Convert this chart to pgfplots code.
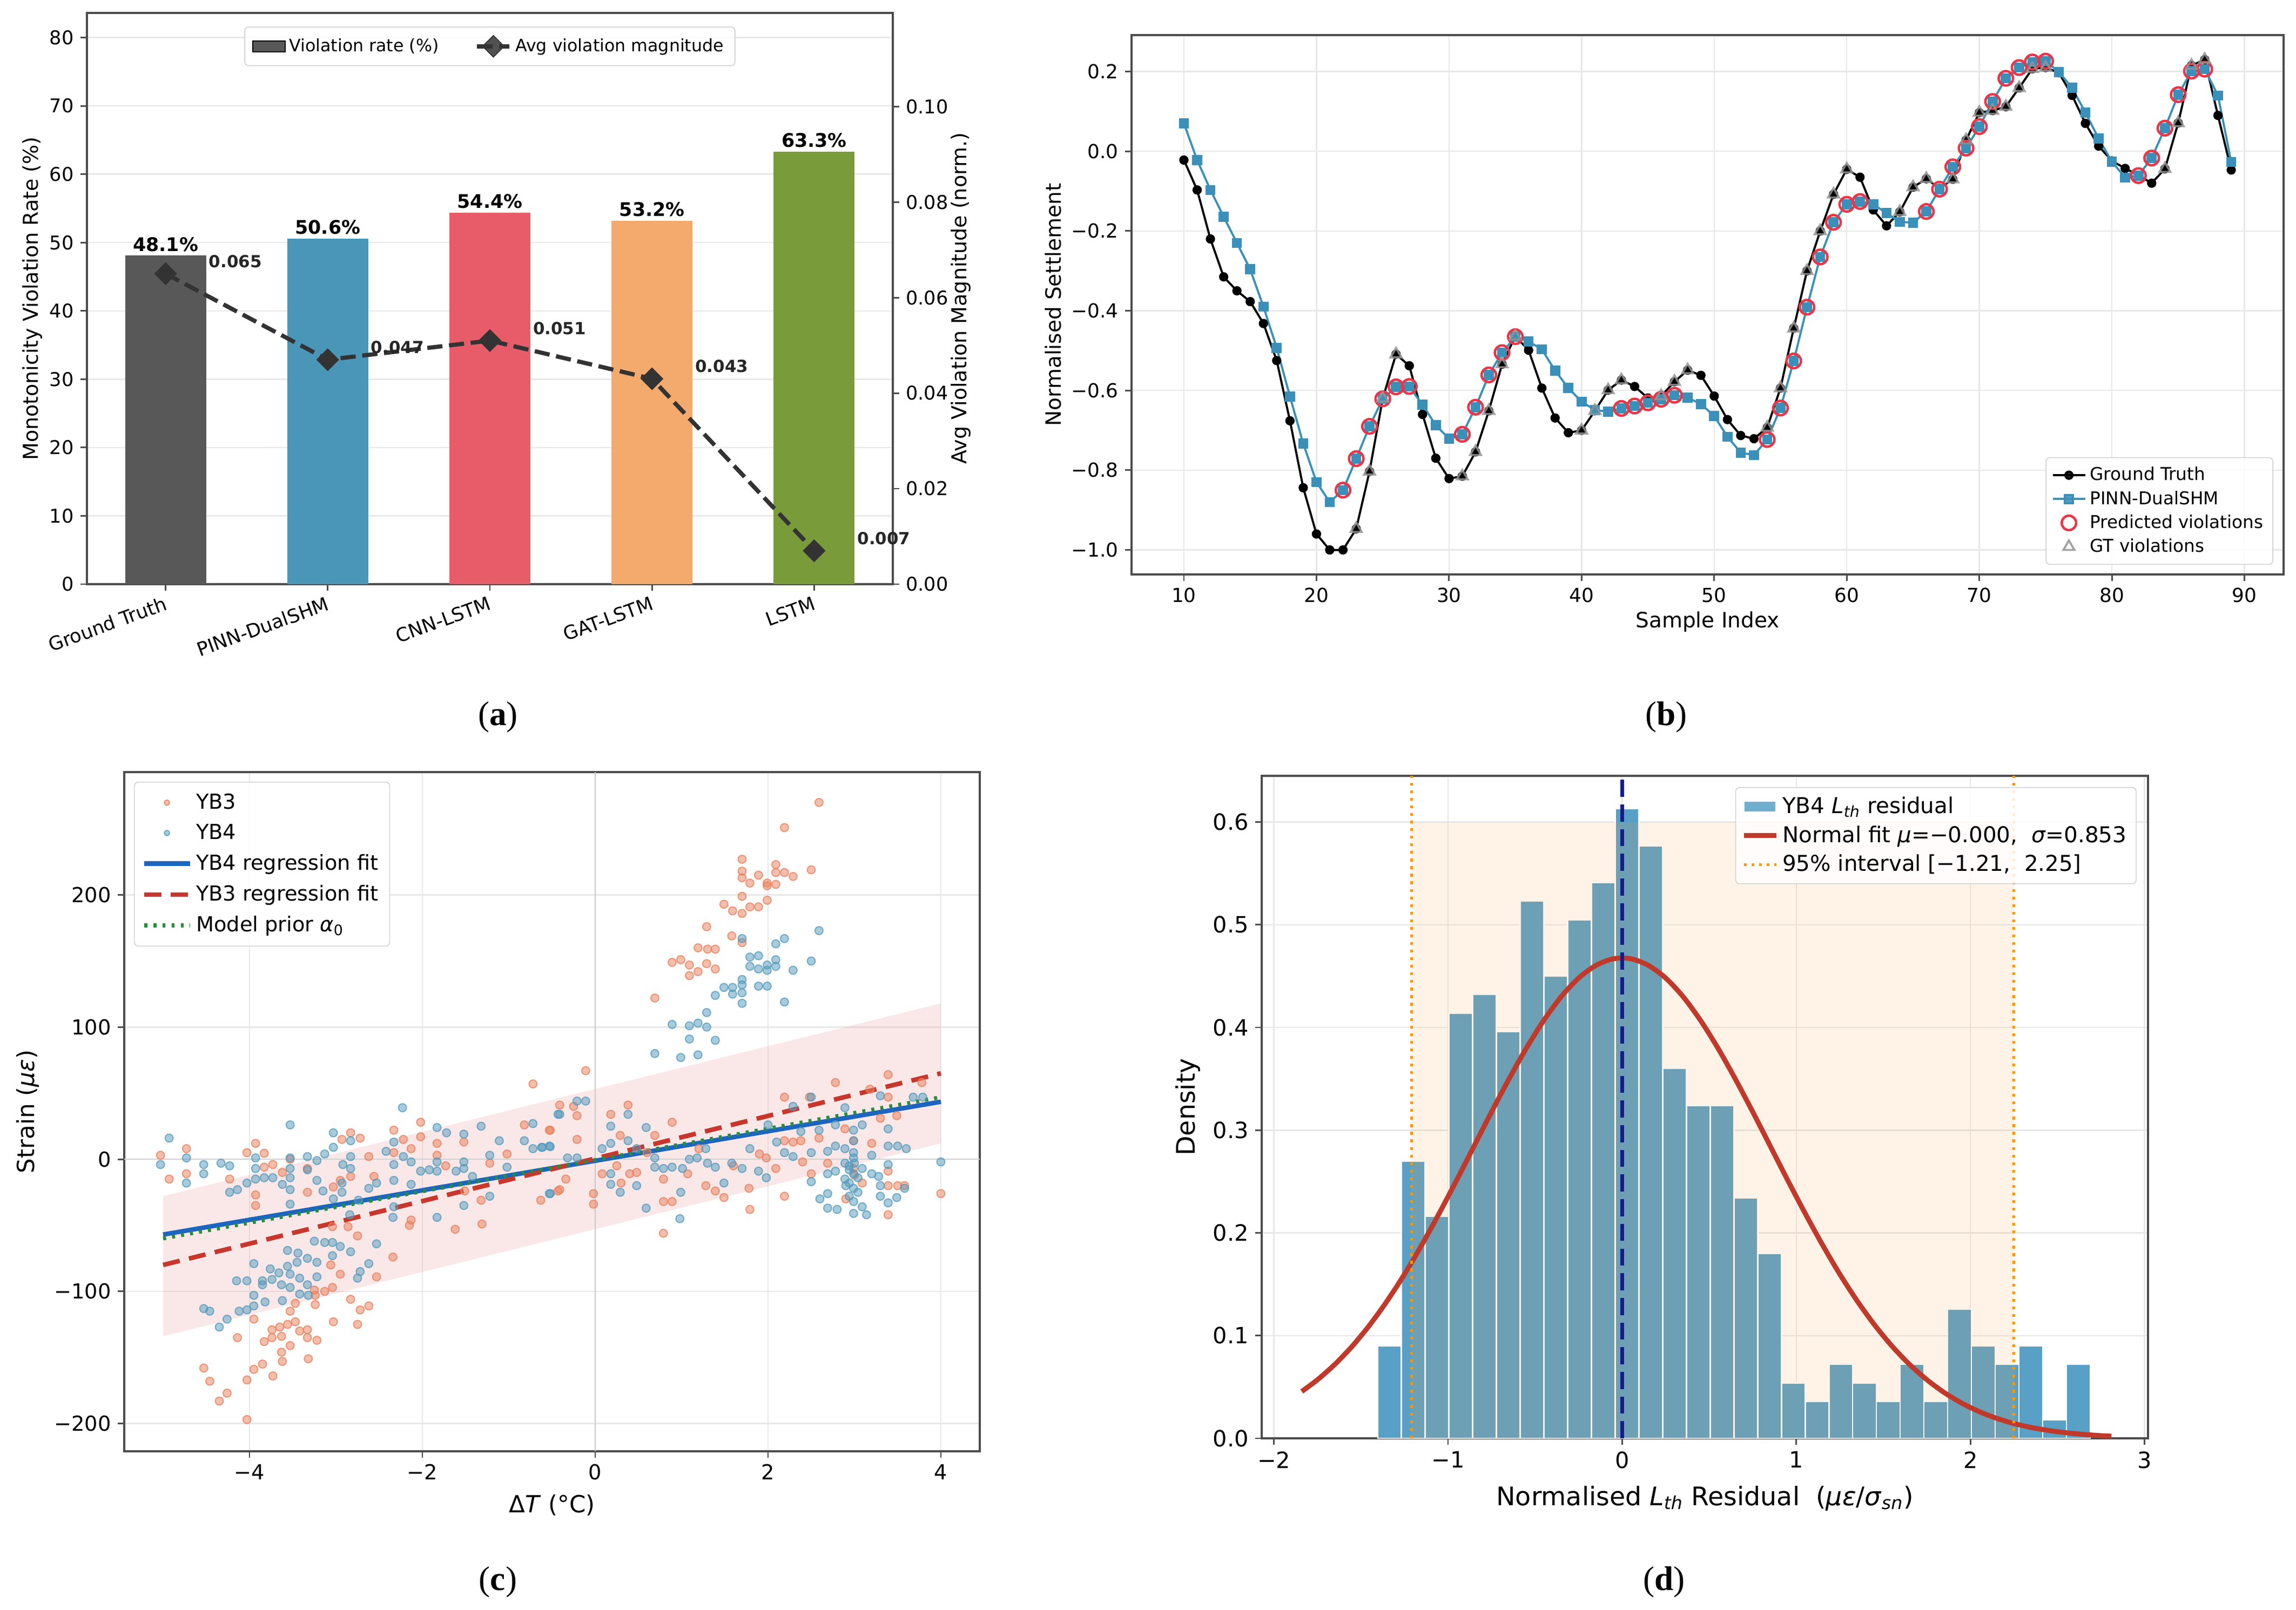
\documentclass[border=0pt]{standalone}
\usepackage{fontspec}
\setmainfont{DejaVu Sans}
\newfontfamily\capfont{Liberation Serif}
\usepackage{pgfplots}
\pgfplotsset{compat=1.18}
\usetikzlibrary{plotmarks}

\definecolor{cGT}{RGB}{88,88,88}
\definecolor{cPINN}{RGB}{74,150,184}
\definecolor{cCNN}{RGB}{232,92,106}
\definecolor{cGAT}{RGB}{243,170,108}
\definecolor{cLSTM}{RGB}{122,155,58}
\definecolor{cLine}{RGB}{51,51,51}
\definecolor{bPINN}{RGB}{58,144,184}
\definecolor{cViol}{RGB}{232,55,74}
\definecolor{cOr}{RGB}{232,128,92}
\definecolor{cBl}{RGB}{84,154,188}
\definecolor{fitBlue}{RGB}{28,101,192}
\definecolor{fitRed}{RGB}{200,55,45}
\definecolor{fitGreen}{RGB}{40,140,60}
\definecolor{band}{RGB}{232,150,150}
\definecolor{hist}{RGB}{88,160,198}
\definecolor{shade}{RGB}{255,160,70}
\definecolor{navyc}{RGB}{20,28,140}
\definecolor{dorange}{RGB}{255,150,0}
\definecolor{curvec}{RGB}{192,57,43}

\pgfplotsset{
  mpl/.style={
    scale only axis, anchor=south west,
    axis line style={black!70, line width=0.9pt},
    tick style={black!70, line width=0.8pt},
    tick align=outside, major tick length=0.12cm,
    tick pos=left,
    grid style={black!9, line width=0.7pt},
    legend cell align=left,
    legend style={draw=black!20, fill=white, fill opacity=0.85, text opacity=1, rounded corners=2pt, inner sep=3pt},
    legend image post style={sharp corners},
    /pgf/number format/assume math mode=true,
  },
  longline/.style={legend image code/.code={\draw[##1] (0cm,0cm) -- (0.85cm,0cm);}},
  smallmark/.style={legend image code/.code={\draw[mark repeat=2,mark phase=2,##1, mark size=1.4pt] plot coordinates {(0cm,0cm)(0.42cm,0cm)(0.85cm,0cm)};}},
}

\begin{document}
\begin{tikzpicture}
\useasboundingbox (0,0) rectangle (42.51,29.81);

%%%%%%%%%%%%%%%% (a) %%%%%%%%%%%%%%%%
\begin{axis}[mpl, at={(1.61cm,18.99cm)}, width=14.92cm, height=10.58cm,
  xmin=-0.485, xmax=4.485, ymin=0, ymax=83.6,
  xtick={0,1,2,3,4}, xticklabels={Ground Truth,PINN-DualSHM,CNN-LSTM,GAT-LSTM,LSTM},
  x tick label style={rotate=20, anchor=north east, font=\fontsize{10}{12}\selectfont, inner sep=2pt},
  ytick={0,10,20,30,40,50,60,70,80},
  yticklabels={0,10,20,30,40,50,60,70,80},
  y tick label style={font=\fontsize{10}{12}\selectfont},
  ymajorgrids,
  ylabel={Monotonicity Violation Rate (\%)},
  ylabel style={at={(axis description cs:-0.0677,0.5)}, anchor=center, font=\fontsize{10.8}{13}\selectfont},
  bar width=0.5,
  nodes near coords={\pgfmathprintnumber[fixed,precision=1,fixed zerofill]{\pgfplotspointmeta}\%},
  every node near coord/.append style={font=\bfseries\fontsize{9.9}{12}\selectfont, anchor=south, inner sep=2pt},
]
\addplot[ybar, bar shift=0pt, fill=cGT, draw=none] coordinates {(0,48.1)};
\addplot[ybar, bar shift=0pt, fill=cPINN, draw=none] coordinates {(1,50.6)};
\addplot[ybar, bar shift=0pt, fill=cCNN, draw=none] coordinates {(2,54.4)};
\addplot[ybar, bar shift=0pt, fill=cGAT, draw=none] coordinates {(3,53.2)};
\addplot[ybar, bar shift=0pt, fill=cLSTM, draw=none] coordinates {(4,63.3)};
\end{axis}

\begin{axis}[mpl, at={(1.61cm,18.99cm)}, width=14.92cm, height=10.58cm,
  xmin=-0.485, xmax=4.485, ymin=0, ymax=0.1196, clip=false,
  axis x line=none, axis y line*=right, ytick pos=right,
  ytick={0,0.02,0.04,0.06,0.08,0.10}, yticklabels={0.00,0.02,0.04,0.06,0.08,0.10},
  y tick label style={font=\fontsize{10}{12}\selectfont},
  ylabel={Avg Violation Magnitude (norm.)},
  ylabel style={at={(axis description cs:1.0845,0.5)}, anchor=center, font=\fontsize{10.8}{13}\selectfont},
  legend columns=2,
  legend style={at={(0.5,0.976)}, anchor=north, font=\fontsize{9}{11}\selectfont, inner sep=4pt,
     /tikz/every even column/.append style={column sep=0.6cm}},
]
\addlegendimage{area legend, fill=cGT, fill opacity=1, draw=none}
\addlegendentry{Violation rate (\%)}
\addplot[cLine, line width=2.2pt, dash pattern=on 8pt off 3.5pt, mark=square*, mark size=4pt,
  mark options={solid, rotate=45, fill=cLine, draw=cLine, line width=0.5pt}]
  coordinates {(0,0.065)(1,0.047)(2,0.051)(3,0.043)(4,0.007)};
\addlegendentry{Avg violation magnitude}
\node[font=\bfseries\fontsize{8.8}{10}\selectfont, text=black!85] at (axis cs:0.43,0.0676) {0.065};
\node[font=\bfseries\fontsize{8.8}{10}\selectfont, text=black!85] at (axis cs:1.43,0.0496) {0.047};
\node[font=\bfseries\fontsize{8.8}{10}\selectfont, text=black!85] at (axis cs:2.43,0.0536) {0.051};
\node[font=\bfseries\fontsize{8.8}{10}\selectfont, text=black!85] at (axis cs:3.43,0.0456) {0.043};
\node[font=\bfseries\fontsize{8.8}{10}\selectfont, text=black!85] at (axis cs:4.43,0.0096) {0.007};
\end{axis}

%%%%%%%%%%%%%%%% (b) %%%%%%%%%%%%%%%%
\begin{axis}[mpl, at={(20.95cm,19.17cm)}, width=21.33cm, height=9.99cm,
  xmin=6.05, xmax=92.95, ymin=-1.0615, ymax=0.2915,
  xtick={10,20,30,40,50,60,70,80,90},
  ytick={-1,-0.8,-0.6,-0.4,-0.2,0,0.2}, yticklabels={−1.0,−0.8,−0.6,−0.4,−0.2,0.0,0.2},
  grid=major,
  tick label style={font=\fontsize{10.2}{12}\selectfont},
  xlabel={Sample Index}, ylabel={Normalised Settlement},
  xlabel style={at={(axis description cs:0.5,-0.088)}, anchor=center, font=\fontsize{11.1}{13}\selectfont},
  ylabel style={at={(axis description cs:-0.068,0.5)}, anchor=center, font=\fontsize{11.1}{13}\selectfont},
  legend style={at={(0.991,0.018)}, anchor=south east, font=\fontsize{9.3}{11}\selectfont},
]
\addplot[black, line width=1.1pt, mark=*, mark size=1.9pt, mark options={solid, fill=black}] coordinates {
(10,-0.022)(11,-0.097)(12,-0.220)(13,-0.315)(14,-0.350)(15,-0.377)(16,-0.432)(17,-0.525)(18,-0.676)(19,-0.844)(20,-0.960)(21,-1.000)(22,-1.000)(23,-0.947)(24,-0.803)(25,-0.620)(26,-0.509)(27,-0.538)(28,-0.660)(29,-0.770)(30,-0.821)(31,-0.815)(32,-0.754)(33,-0.651)(34,-0.534)(35,-0.464)(36,-0.499)(37,-0.594)(38,-0.669)(39,-0.706)(40,-0.700)(41,-0.651)(42,-0.599)(43,-0.574)(44,-0.590)(45,-0.619)(46,-0.614)(47,-0.578)(48,-0.549)(49,-0.562)(50,-0.614)(51,-0.673)(52,-0.713)(53,-0.721)(54,-0.693)(55,-0.594)(56,-0.444)(57,-0.300)(58,-0.200)(59,-0.108)(60,-0.045)(61,-0.065)(62,-0.147)(63,-0.187)(64,-0.152)(65,-0.090)(66,-0.069)(67,-0.093)(68,-0.070)(69,0.028)(70,0.097)(71,0.102)(72,0.112)(73,0.159)(74,0.207)(75,0.210)(76,0.197)(77,0.140)(78,0.070)(79,0.013)(80,-0.024)(81,-0.043)(82,-0.060)(83,-0.080)(84,-0.044)(85,0.071)(86,0.215)(87,0.230)(88,0.090)(89,-0.047)};
\addlegendentry{Ground Truth}
\addplot[bPINN, line width=1.1pt, mark=square*, mark size=2.1pt, mark options={solid, fill=bPINN}] coordinates {
(10,0.070)(11,-0.022)(12,-0.097)(13,-0.164)(14,-0.230)(15,-0.296)(16,-0.390)(17,-0.493)(18,-0.615)(19,-0.733)(20,-0.830)(21,-0.880)(22,-0.850)(23,-0.771)(24,-0.690)(25,-0.621)(26,-0.591)(27,-0.590)(28,-0.636)(29,-0.687)(30,-0.721)(31,-0.710)(32,-0.642)(33,-0.561)(34,-0.505)(35,-0.465)(36,-0.477)(37,-0.497)(38,-0.550)(39,-0.594)(40,-0.628)(41,-0.649)(42,-0.653)(43,-0.645)(44,-0.639)(45,-0.631)(46,-0.622)(47,-0.612)(48,-0.618)(49,-0.634)(50,-0.664)(51,-0.716)(52,-0.756)(53,-0.762)(54,-0.723)(55,-0.644)(56,-0.526)(57,-0.391)(58,-0.265)(59,-0.178)(60,-0.133)(61,-0.126)(62,-0.133)(63,-0.155)(64,-0.177)(65,-0.179)(66,-0.151)(67,-0.095)(68,-0.039)(69,0.008)(70,0.062)(71,0.125)(72,0.183)(73,0.210)(74,0.224)(75,0.226)(76,0.199)(77,0.159)(78,0.097)(79,0.032)(80,-0.026)(81,-0.066)(82,-0.061)(83,-0.017)(84,0.058)(85,0.142)(86,0.201)(87,0.206)(88,0.140)(89,-0.027)};
\addlegendentry{PINN-DualSHM}
\addplot[only marks, mark=o, mark size=3.8pt, mark options={draw=cViol, line width=1.3pt}] coordinates {
(22,-0.850)(23,-0.771)(24,-0.690)(25,-0.621)(26,-0.591)(27,-0.590)(31,-0.710)(32,-0.642)(33,-0.561)(34,-0.505)(35,-0.465)(43,-0.645)(44,-0.639)(45,-0.631)(46,-0.622)(47,-0.612)(54,-0.723)(55,-0.644)(56,-0.526)(57,-0.391)(58,-0.265)(59,-0.178)(60,-0.133)(61,-0.126)(66,-0.151)(67,-0.095)(68,-0.039)(69,0.008)(70,0.062)(71,0.125)(72,0.183)(73,0.210)(74,0.224)(75,0.226)(82,-0.061)(83,-0.017)(84,0.058)(85,0.142)(86,0.201)(87,0.206)};
\addlegendentry{Predicted violations}
\addplot[only marks, mark=triangle, mark size=3.3pt, mark options={draw=black!42, draw opacity=0.85, line width=1.1pt}] coordinates {
(23,-0.947)(24,-0.803)(25,-0.620)(26,-0.509)(31,-0.815)(32,-0.754)(33,-0.651)(34,-0.534)(35,-0.464)(40,-0.700)(41,-0.651)(42,-0.599)(43,-0.574)(46,-0.614)(47,-0.578)(48,-0.549)(54,-0.693)(55,-0.594)(56,-0.444)(57,-0.300)(58,-0.200)(59,-0.108)(60,-0.045)(64,-0.152)(65,-0.090)(66,-0.069)(68,-0.070)(69,0.028)(70,0.097)(71,0.102)(72,0.112)(73,0.159)(74,0.207)(75,0.210)(84,-0.044)(85,0.071)(86,0.215)(87,0.230)};
\addlegendentry{GT violations}
\end{axis}

%%%%%%%%%%%%%%%% (c) %%%%%%%%%%%%%%%%
\begin{axis}[mpl, at={(2.30cm,2.93cm)}, width=15.84cm, height=12.58cm,
  xmin=-5.45, xmax=4.45, ymin=-221, ymax=293,
  xtick={-4,-2,0,2,4}, xticklabels={−4,−2,0,2,4},
  ytick={-200,-100,0,100,200}, yticklabels={−200,−100,0,100,200},
  grid=major,
  tick label style={font=\fontsize{10.9}{13}\selectfont},
  xlabel={Δ\textit{T} (°C)}, ylabel={Strain (\textit{με})},
  xlabel style={at={(axis description cs:0.5,-0.0795)}, anchor=center, font=\fontsize{12.4}{14}\selectfont},
  ylabel style={at={(axis description cs:-0.113,0.5)}, anchor=center, font=\fontsize{12.4}{14}\selectfont},
  legend style={at={(0.0114,0.9857)}, anchor=north west, font=\fontsize{10.9}{13}\selectfont, row sep=2.5pt, inner sep=4pt},
]
\addplot[fill=band, fill opacity=0.22, draw=none, forget plot] coordinates {(-5,-134)(4,12)(4,118)(-5,-28)} -- cycle;
\addplot[black!22, line width=0.7pt, forget plot] coordinates {(0,-221)(0,293)};
\addplot[black!18, line width=0.7pt, forget plot] coordinates {(-5.45,0)(4.45,0)};
\addplot[only marks, mark=*, mark size=2.1pt, smallmark, mark options={draw=cOr, fill=cOr, fill opacity=0.5, draw opacity=0.75, line width=0.6pt}] coordinates {
(-5.03,3)(-4.73,8)(-4.93,-15)(-4.73,-11)(-3.93,12)(-4.03,5)(-3.83,4.5)(-4.23,-15)(-3.93,-27)(-3.93,-35)(-3.83,-6)(-3.73,-4)(-3.62,-10)(-3.53,0)(-3.33,-7)(-3.33,-25)(-2.93,15)(-2.83,20)(-2.72,16)(-2.83,-13)(-3.03,-21)(-2.62,2)(-2.56,-13)(-2.33,22)(-2.22,15)(-2.02,28)(-2.02,17)(-2.13,8)(-2.33,5)(-1.83,12)(-1.83,3)(-1.73,-5)(-1.52,13)(-1.22,-3)(-1.02,4)(-0.82,26)(-0.52,22)(-0.72,57)(-0.63,-31)(-0.43,-24)(-1.32,-31)(-1.31,-49)(-1.62,-53)(-2.15,-50)(-2.13,-46)(-2.34,-74)(-2.53,-89)(-2.75,-58)(-2.86,-51)(-3.04,-51)(-3.06,-80)(-2.95,-87)(-3.04,-97)(-3.13,-100)(-3.24,-103)(-3.24,-110)(-2.83,-106)(-2.72,-114)(-2.62,-111)(-3.03,-123)(-2.75,-125)(-3.47,-109)(-3.53,-115)(-3.47,-123)(-3.56,-125)(-3.65,-127)(-3.74,-129)(-3.83,-138)(-3.74,-135)(-3.63,-134)(-3.42,-130)(-3.33,-129)(-3.33,-135)(-3.22,-137)(-3.53,-141)(-3.63,-146)(-3.62,-153)(-3.32,-151)(-3.85,-155)(-3.95,-159)(-4.14,-135)(-3.95,-121)(-3.73,-164)(-4.53,-158)(-4.46,-168)(-4.26,-177)(-4.35,-183)(-4.03,-167)(-4.03,-197)(-3.25,-99)(-2.95,-16)(-1.51,-24)
(2.59,270)(2.19,251)(1.70,227)(1.70,218)(1.70,213)(1.79,209)(1.89,215)(1.99,209)(1.99,207)(2.09,208)(2.09,223)(2.09,217)(2.19,217)(2.29,214)(2.50,219)(1.70,199)(1.99,196)(1.89,191)(1.79,191)(1.70,186)(1.59,188)(1.49,193)(1.29,176)(1.58,169)(1.70,164)(1.19,160)(1.30,159)(1.39,159)(0.89,149)(0.99,151)(1.09,147)(1.09,139)(1.19,142)(1.29,148)(1.39,144)(0.69,122)
(-0.11,67)(-0.41,41)(-0.53,22)(-0.21,33)(-0.21,15)(-0.34,-15)(-0.41,-23)(0.18,34)(0.38,41)(0.29,18)(-0.02,-26)(-0.02,-34)(0.08,-11)(0.40,-11)(0.48,-10)(0.69,18)(0.89,28)(0.79,-15)(0.89,-32)(0.79,-32)(1.07,-11)(1.28,-20)(1.39,-24)(1.49,-29)(1.78,-22)(1.79,-38)(1.98,1)(2.09,-7)(2.19,-28)(2.19,47)(2.19,14)(2.29,13)(2.38,14)(2.59,16)(2.48,47)(2.50,-11)(2.69,-3)(2.78,58)(2.89,23)(2.99,14)(2.99,-7)(3.09,-18)(3.18,53)(3.20,12)(3.30,31)(3.39,64)(3.39,47)(3.49,33)(3.39,-20)(3.39,-9)(3.50,-20)(3.78,58)(4.00,-26)(3.58,-20)(0.79,-56)(3.39,-42)(-0.25,40)(0.25,-5)(0.6,5)(1.2,8)(1.6,-5)(2.9,-30)(3.0,-12)(2.4,-2)(1.9,4)(0.3,-18)};
\addlegendentry{YB3}
\addplot[only marks, mark=*, mark size=2.1pt, smallmark, mark options={draw=cBl, fill=cBl, fill opacity=0.5, draw opacity=0.75, line width=0.6pt}] coordinates {
(-5.03,-4)(-4.93,16)(-4.73,1)(-4.73,-18)(-4.53,-4)(-4.53,-11)(-4.33,-3)(-4.23,-5)(-4.23,-25)(-4.14,-23)(-4.03,-18)(-3.93,-15)(-3.93,-7)(-3.93,1)(-3.83,-14)(-3.73,-14)(-3.62,-19)(-3.53,26)(-3.53,1)(-3.53,-7)(-3.53,-14)(-3.53,-23)(-3.53,-34)(-3.33,2)(-3.33,-8)(-3.22,-1)(-3.22,-16)(-3.15,-24)(-3.13,4)(-3.03,20)(-3.03,9)(-3.03,-30)(-2.93,-18)(-2.93,-25)(-2.92,-4)(-2.83,14)(-2.83,2)(-2.83,-7)(-2.74,-31)(-2.62,-22)(-2.53,-18)(-2.42,6)(-2.33,13)(-2.33,-4)(-2.33,-16)(-2.22,2)(-2.13,-2)(-2.13,-19)(-2.23,39)(-2.02,-9)(-1.92,-8)(-1.83,24)(-1.83,-9)(-1.83,-2)(-1.72,20)(-1.61,-9)(-1.52,19)(-1.52,-2)(-1.52,-7)(-1.52,-35)(-1.42,-13)(-1.32,25)(-1.22,3)(-1.22,-28)(-1.11,14)(-1.02,-6)(-0.82,14)(-0.72,27)(-0.72,8)(-0.61,9)(-0.52,9.5)(-0.52,-26)(-0.43,34)(-1.83,-44)(-2.34,-44)(-2.33,-36)(-2.84,-42)(-3.25,-62)(-3.13,-63)(-3.04,-63)(-2.95,-66)(-3.04,-73)(-2.83,-70)(-2.53,-64)(-3.56,-69)(-3.44,-71)(-3.45,-78)(-3.33,-75)(-3.22,-78)(-3.56,-81)(-3.76,-83)(-3.66,-86)(-3.53,-87)(-3.42,-90)(-3.22,-89)(-3.95,-79)(-4.15,-92)(-4.03,-92)(-3.85,-92)(-3.74,-91)(-3.63,-95)(-3.53,-97)(-3.33,-95)(-3.85,-95)(-3.95,-103)(-3.62,-107)(-3.42,-102)(-3.32,-103)(-3.82,-108)(-3.95,-111)(-4.03,-114)(-4.12,-115)(-4.26,-121)(-4.35,-127)(-4.46,-115)(-4.53,-113)(-2.75,-90)(-2.72,-85)(-2.62,-79)
(2.59,173)(2.19,167)(2.09,163)(1.70,167)(1.79,153)(1.89,154)(1.79,146)(1.89,144)(1.99,147)(1.99,143)(2.09,151)(2.09,146)(2.29,143)(2.50,150)(1.70,136)(1.70,132)(1.70,126)(1.59,130)(1.49,130)(1.59,125)(1.39,124)(1.70,118)(1.89,131)(1.99,131)(2.19,119)(1.29,111)(1.19,103)(1.09,101)(1.29,100)(0.89,102)(1.09,91)(1.39,90)(0.69,80)(0.99,77)(1.19,79)
(-0.21,44)(-0.11,44)(-0.41,34)(-0.62,9)(-0.53,10)(-0.32,1)(-0.21,1)(-0.53,-26)(0.08,8)(0.18,25)(0.18,12)(0.18,-11)(0.18,-19)(0.29,-25)(0.38,34)(0.38,14)(0.48,8)(0.59,24)(0.48,-20)(0.59,-37)(0.69,1)(0.69,-6)(0.79,-7)(0.89,-6)(1.01,-7)(0.99,-25)(1.09,0)(1.18,1)(1.28,8)(1.30,-3)(1.39,-6)(1.49,-18)(1.58,-3)(1.70,-7)(1.79,8)(1.89,-9)(1.98,-14)(2.00,26)(2.10,13)(2.19,5)(2.29,2)(2.29,40)(2.38,21)(2.50,5)(2.50,-17)(2.50,47)(2.59,22)(2.69,6)(2.69,-11)(2.69,-26)(2.69,-37)(2.78,26)(2.78,10)(2.78,-9)(2.89,39)(2.89,8)(2.89,-3)(2.89,-15)(2.99,22)(2.99,14)(2.99,5)(2.99,1)(2.99,-11)(2.99,-22)(2.99,-32)(3.09,26)(3.09,-7)(3.09,-36)(3.20,3)(3.20,-11)(3.30,48)(3.30,-20)(3.39,23)(3.39,10)(3.39,-4)(3.39,-33)(3.49,-29)(3.60,8)(3.68,47)(3.79,47)(4.00,-2)(3.28,-13)(3.58,-22)(0.98,-45)(2.80,-38)(2.99,-41)(3.14,-42)(2.94,-5)(2.94,-18)(2.94,-28)(3.04,-25)(2.94,-8)(3.04,-14)(2.90,-20)(3.0,-3)(3.3,-28)(2.6,-30)(3.5,10)};
\addlegendentry{YB4}
\addplot[fitBlue, line width=2.4pt, longline] coordinates {(-5,-57)(4,43.5)};
\addlegendentry{YB4 regression fit}
\addplot[fitRed, line width=2.4pt, dash pattern=on 9pt off 5pt, longline] coordinates {(-5,-80)(4,65)};
\addlegendentry{YB3 regression fit}
\addplot[fitGreen, line width=2pt, dash pattern=on 1.6pt off 3.2pt, longline] coordinates {(-5,-60)(4,47)};
\addlegendentry{Model prior \textit{α}\textsubscript{0}}
\end{axis}

%%%%%%%%%%%%%%%% (d) %%%%%%%%%%%%%%%%
\begin{axis}[mpl, at={(23.36cm,3.17cm)}, width=16.41cm, height=12.27cm,
  xmin=-2.07, xmax=3.02, ymin=0, ymax=0.645,
  xtick={-2,-1,0,1,2,3}, xticklabels={−2,−1,0,1,2,3},
  ytick={0,0.1,0.2,0.3,0.4,0.5,0.6}, yticklabels={0.0,0.1,0.2,0.3,0.4,0.5,0.6},
  grid=major,
  tick label style={font=\fontsize{11.8}{14}\selectfont},
  xlabel={Normalised \textit{L}\textsubscript{\textit{th}} Residual\ \ (\textit{με}/\textit{σ}\textsubscript{\textit{sn}})},
  ylabel={Density},
  xlabel style={at={(axis description cs:0.5,-0.0905)}, anchor=center, font=\fontsize{13.5}{16}\selectfont},
  ylabel style={at={(axis description cs:-0.0835,0.5)}, anchor=center, font=\fontsize{13.5}{16}\selectfont},
  legend style={at={(0.987,0.983)}, anchor=north east, font=\fontsize{11.5}{14}\selectfont, row sep=1pt},
]
\addplot[ybar interval, area legend, fill=hist, draw=white, line width=0.7pt] coordinates {
(-1.4040,0.090)(-1.2676,0.270)(-1.1312,0.216)(-0.9948,0.414)(-0.8584,0.432)(-0.7220,0.396)(-0.5856,0.523)(-0.4492,0.450)(-0.3128,0.505)(-0.1764,0.541)(-0.0400,0.613)(0.0964,0.577)(0.2328,0.360)(0.3692,0.324)(0.5056,0.324)(0.6420,0.234)(0.7784,0.180)(0.9148,0.054)(1.0512,0.036)(1.1876,0.072)(1.3240,0.054)(1.4604,0.036)(1.5968,0.072)(1.7332,0.036)(1.8696,0.126)(2.0060,0.090)(2.1424,0.072)(2.2788,0.090)(2.4152,0.018)(2.5516,0.072)(2.6880,0)};
\addlegendentry{YB4 \textit{L}\textsubscript{\textit{th}} residual}
\addplot[fill=shade, fill opacity=0.13, draw=none, forget plot] coordinates {(-1.21,0)(2.25,0)(2.25,0.6)(-1.21,0.6)} -- cycle;
\addplot[curvec, line width=2.6pt, smooth] coordinates {
(-1.84,0.0456)(-1.75,0.0570)(-1.65,0.0720)(-1.55,0.0897)(-1.45,0.1103)(-1.35,0.1337)(-1.25,0.1598)(-1.15,0.1885)(-1.05,0.2193)(-0.95,0.2515)(-0.85,0.2847)(-0.75,0.3178)(-0.65,0.3498)(-0.55,0.3799)(-0.45,0.4069)(-0.35,0.4300)(-0.25,0.4481)(-0.15,0.4605)(-0.05,0.4669)(0.05,0.4669)(0.15,0.4605)(0.25,0.4481)(0.35,0.4300)(0.45,0.4069)(0.55,0.3799)(0.65,0.3498)(0.75,0.3178)(0.85,0.2847)(0.95,0.2515)(1.05,0.2193)(1.15,0.1885)(1.25,0.1598)(1.35,0.1337)(1.45,0.1103)(1.55,0.0897)(1.65,0.0720)(1.75,0.0570)(1.85,0.0445)(1.95,0.0343)(2.05,0.0260)(2.15,0.0195)(2.25,0.0144)(2.35,0.0105)(2.45,0.0076)(2.55,0.0054)(2.65,0.0038)(2.75,0.0026)(2.81,0.0021)};
\addlegendentry{Normal fit \textit{μ}=−0.000,\ \ \textit{σ}=0.853}
\addplot[dorange, line width=1.5pt, dash pattern=on 1.5pt off 2.5pt] coordinates {(-1.21,0)(-1.21,0.645)};
\addlegendentry{95\% interval [−1.21,\ \ 2.25]}
\addplot[dorange, line width=1.5pt, dash pattern=on 1.5pt off 2.5pt, forget plot] coordinates {(2.25,0)(2.25,0.645)};
\addplot[navyc, line width=2.2pt, dash pattern=on 9pt off 4pt, forget plot] coordinates {(0,0)(0,0.645)};
\end{axis}

%%%%%%%%%%%%%%%% captions %%%%%%%%%%%%%%%%
\node[font=\capfont\fontsize{18}{20}\selectfont] at (9.22,16.53) {(\textbf{a})};
\node[font=\capfont\fontsize{18}{20}\selectfont] at (30.85,16.53) {(\textbf{b})};
\node[font=\capfont\fontsize{18}{20}\selectfont] at (9.22,0.51) {(\textbf{c})};
\node[font=\capfont\fontsize{18}{20}\selectfont] at (30.81,0.51) {(\textbf{d})};
\end{tikzpicture}
\end{document}
